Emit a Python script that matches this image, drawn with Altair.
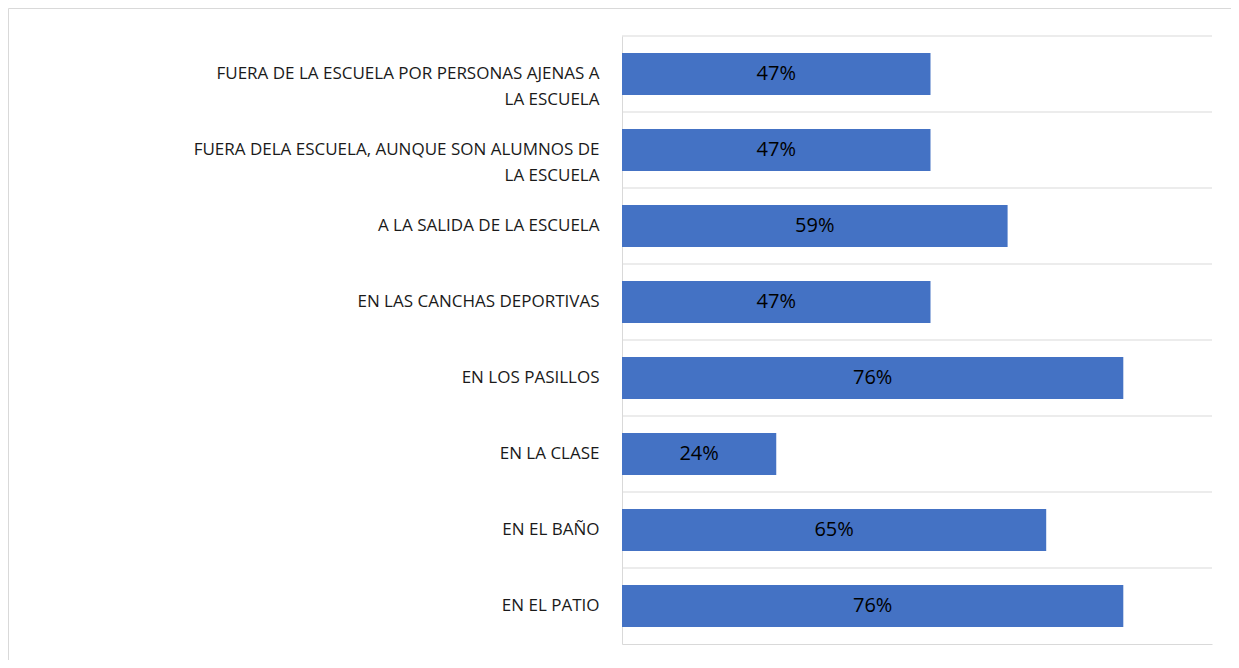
import json
import altair as alt
import pandas as pd

# Categories (top to bottom) and values
categories = [
    "FUERA DE LA ESCUELA POR PERSONAS AJENAS A LA ESCUELA",
    "FUERA DELA ESCUELA, AUNQUE SON ALUMNOS DE LA ESCUELA",
    "A LA SALIDA DE LA ESCUELA",
    "EN LAS CANCHAS DEPORTIVAS",
    "EN LOS PASILLOS",
    "EN LA CLASE",
    "EN EL BAÑO",
    "EN EL PATIO",
]
values = [0.4706, 0.4706, 0.5882, 0.4706, 0.7647, 0.2353, 0.6471, 0.7647]

# Two-line axis labels as shown in the picture
label_lines = {
    "FUERA DE LA ESCUELA POR PERSONAS AJENAS A LA ESCUELA":
        ["FUERA DE LA ESCUELA POR PERSONAS AJENAS A", "LA ESCUELA"],
    "FUERA DELA ESCUELA, AUNQUE SON ALUMNOS DE LA ESCUELA":
        ["FUERA DELA ESCUELA, AUNQUE SON ALUMNOS DE", "LA ESCUELA"],
}

df = pd.DataFrame({"cat": categories, "value": values})

expr = "datum.label"
for k, v in label_lines.items():
    expr = f"datum.value == {json.dumps(k)} ? {json.dumps(v)} : ({expr})"

BAR = "#4472C4"
GRID = "#D9D9D9"
FONT = "Open Sans"
W, H = 590, 608
PAD_INNER = 0.447
PAD_OUTER = PAD_INNER / 2
STEP = H / len(categories)
# grid lines sit half an inner padding above each band
GRID_OFFSET = -PAD_INNER * STEP / 2

y_scale = alt.Scale(paddingInner=PAD_INNER, paddingOuter=PAD_OUTER)
x_scale = alt.Scale(domain=[0, 0.9], nice=False)

y_enc = alt.Y(
    "cat:N",
    sort=categories,
    title=None,
    scale=y_scale,
    axis=alt.Axis(
        labelExpr=expr,
        labelAlign="right",
        labelBaseline="middle",
        labelFont=FONT,
        labelFontSize=17,
        labelColor="#1a1a1a",
        labelLineHeight=26,
        labelPadding=23,
        labelLimit=0,
        ticks=False,
        grid=False,
        domainColor=GRID,
        domainWidth=1,
    ),
)

x_enc = alt.X(
    "value:Q",
    title=None,
    scale=x_scale,
    axis=alt.Axis(
        labels=False, ticks=False, grid=False,
        domainColor=GRID, domainWidth=1,
    ),
)

base = alt.Chart(df)

gridlines = base.mark_rule(color=GRID, strokeWidth=1, yOffset=GRID_OFFSET).encode(
    y=alt.Y("cat:N", sort=categories, bandPosition=0),
    x=alt.datum(0),
    x2=alt.datum(0.9),
)

bars = base.mark_bar(color=BAR).encode(x=x_enc, y=y_enc)

texts = base.transform_calculate(mid="datum.value / 2").mark_text(
    font=FONT, fontSize=20, color="#000000", align="center", baseline="middle"
).encode(
    x=alt.X("mid:Q", scale=x_scale),
    y=alt.Y("cat:N", sort=categories),
    text=alt.Text("value:Q", format=".0%"),
)

frame = alt.Chart(pd.DataFrame({"k": [0]})).mark_rect(
    fill="transparent", stroke=GRID, strokeWidth=1
).encode(
    x=alt.value(-613.5), x2=alt.value(700),
    y=alt.value(-27.5), y2=alt.value(700),
)

chart = alt.layer(frame, gridlines, bars, texts).properties(
    width=W,
    height=H,
    autosize=alt.AutoSizeParams(type="none"),
    padding={"left": 614, "top": 28, "right": 19, "bottom": 16},
).configure(background="white").configure_view(strokeWidth=0, stroke="transparent")

chart.save("out.html", embed_options={"renderer": "svg", "actions": False})
